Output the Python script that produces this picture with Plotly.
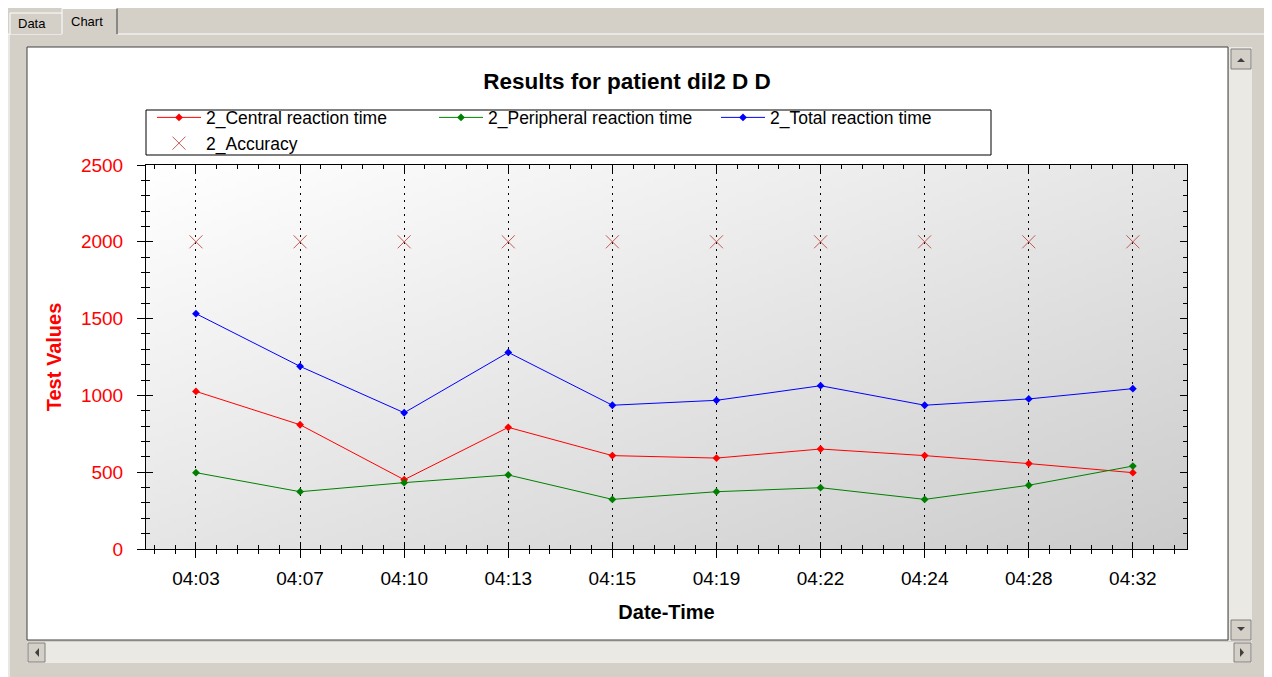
import zlib, struct, base64
import plotly.graph_objects as go

# ---------------- data ----------------
times = ["04:03", "04:07", "04:10", "04:13", "04:15", "04:19", "04:22", "04:24", "04:28", "04:32"]
central = [1026, 809, 451, 792, 608, 592, 651, 608, 556, 497]
peripheral = [497, 373, 432, 482, 323, 373, 399, 323, 415, 540]
total = [1532, 1189, 887, 1280, 936, 968, 1063, 936, 977, 1044]
accuracy = [2000, 2000, 2000, 2000, 2000, 2000, 2000, 2000, 2000, 2000]
y_ticks = [0, 500, 1000, 1500, 2000, 2500]

idx = list(range(len(times)))

SW, SH = 1272, 677          # screen size
OFF = 8                     # page body margin
W, H = SW - OFF, SH - OFF   # figure size
L, R, T, B = 146, 1187, 165, 549   # plot area in screen pixels
XR = [-0.48, 9.52]
YR = [0, 2500]
FONT = "Liberation Sans, Arial, sans-serif"
GRAY = "#d4d0c8"


def px(x):
    return (x - L) / (R - L)


def py(y):
    return (B - y) / (B - T)


def gradient_png(w=200, h=80, lo=204):
    raw = bytearray()
    for j in range(h):
        raw.append(0)
        for i in range(w):
            t = 0.5 * i / (w - 1) + 0.5 * j / (h - 1)
            v = int(round(255 - t * (255 - lo)))
            raw += bytes([v, v, v])

    def chunk(tag, data):
        c = struct.pack(">I", len(data)) + tag + data
        return c + struct.pack(">I", zlib.crc32(tag + data) & 0xffffffff)

    png = (b"\x89PNG\r\n\x1a\n"
           + chunk(b"IHDR", struct.pack(">IIBBBBB", w, h, 8, 2, 0, 0, 0))
           + chunk(b"IDAT", zlib.compress(bytes(raw)))
           + chunk(b"IEND", b""))
    return "data:image/png;base64," + base64.b64encode(png).decode()


fig = go.Figure()

series = [
    ("2_Central reaction time", central, "#ff0000"),
    ("2_Peripheral reaction time", peripheral, "#008000"),
    ("2_Total reaction time", total, "#0000ff"),
]
for name, vals, col in series:
    fig.add_trace(go.Scatter(
        x=idx, y=vals, name=name, mode="lines+markers",
        line=dict(color=col, width=1),
        marker=dict(symbol="diamond", size=6, color=col),
        text=times, hovertemplate="%{text}: %{y}<extra>" + name + "</extra>",
    ))

fig.add_trace(go.Scatter(
    x=idx, y=accuracy, name="2_Accuracy", mode="markers",
    xaxis="x2", yaxis="y2",
    marker=dict(symbol="x-thin-open", size=13, color="#c25a58",
                line=dict(color="#c25a58", width=1)),
    text=times, hovertemplate="%{text}: %{y}<extra>2_Accuracy</extra>",
))

tickfont = dict(family=FONT, size=19, color="black")

fig.update_layout(
    width=W, height=H, autosize=False,
    margin=dict(l=L - OFF, r=SW - R, t=T - OFF, b=SH - B, autoexpand=False),
    paper_bgcolor=GRAY,
    plot_bgcolor="rgba(0,0,0,0)",
    font=dict(family=FONT),
    showlegend=True,
    title=dict(text="<b>Results for patient dil2 D D</b>",
               font=dict(family=FONT, size=22.5, color="black"),
               xref="paper", x=px(627), xanchor="center",
               yref="container", y=1 - (81 - OFF) / H, yanchor="middle"),
    xaxis=dict(
        range=XR, tickmode="array", tickvals=idx, ticktext=times,
        tickfont=tickfont, ticks="outside", ticklen=8, tickcolor="black",
        showline=True, linecolor="black", linewidth=1, mirror=False,
        showgrid=True, gridcolor="black", gridwidth=1, griddash="2px,5px",
        zeroline=False, automargin=False, ticklabelstandoff=4,
        minor=dict(tickmode="linear", tick0=0, dtick=0.2, ticks="outside",
                   ticklen=4, tickcolor="black", showgrid=False),
        title=dict(text="<b>Date-Time</b>", font=dict(family=FONT, size=20, color="black"),
                   standoff=17),
    ),
    xaxis2=dict(
        range=XR, overlaying="x", anchor="y2", side="bottom",
        tickmode="array", tickvals=idx, showticklabels=False,
        ticks="inside", ticklen=7, tickcolor="black",
        showline=True, linecolor="black", mirror="ticks",
        showgrid=False, zeroline=False, automargin=False,
        minor=dict(tickmode="linear", tick0=0, dtick=0.2, ticks="inside",
                   ticklen=4, tickcolor="black", showgrid=False),
    ),
    yaxis=dict(
        range=YR, tickmode="array", tickvals=y_ticks,
        tickfont=dict(family=FONT, size=19, color="#ff0000"),
        ticks="outside", ticklen=8, tickcolor="black",
        showline=True, linecolor="black", linewidth=1, mirror=False,
        showgrid=False, zeroline=False, automargin=False, ticklabelstandoff=10,
        minor=dict(tickmode="linear", tick0=0, dtick=100, ticks="outside",
                   ticklen=4, tickcolor="black", showgrid=False),
        title=dict(text="<b>Test Values</b>", font=dict(family=FONT, size=20, color="#ff0000"),
                   standoff=13),
    ),
    yaxis2=dict(
        range=YR, overlaying="y", anchor="x2", side="left",
        tickmode="array", tickvals=y_ticks, showticklabels=False,
        ticks="inside", ticklen=7, tickcolor="black",
        showline=True, linecolor="black", mirror="ticks",
        showgrid=False, zeroline=False, automargin=False,
        minor=dict(tickmode="linear", tick0=0, dtick=100, ticks="inside",
                   ticklen=4, tickcolor="black", showgrid=False),
    ),
    legend=dict(
        orientation="h", x=px(152), xanchor="left", y=py(99.5), yanchor="top",
        bgcolor="rgba(0,0,0,0)", borderwidth=0,
        font=dict(family=FONT, size=17.5, color="black"),
        entrywidth=223, entrywidthmode="pixels", itemwidth=44,
        traceorder="normal", tracegroupgap=0,
    ),
    hovermode="closest",
)

# gradient background of plotting area
fig.add_layout_image(dict(
    source=gradient_png(), xref="x", yref="y", x=XR[0], y=YR[1],
    sizex=XR[1] - XR[0], sizey=YR[1] - YR[0], sizing="stretch",
    xanchor="left", yanchor="top", layer="below",
))


# ---------------- window chrome ----------------
def rect(x0, y0, x1, y1, fill, line=None, lw=1):
    return dict(type="rect", xref="paper", yref="paper", layer="below",
                x0=px(x0), x1=px(x1), y0=py(y1), y1=py(y0),
                fillcolor=fill, line=dict(color=line or fill, width=lw if line else 0))


def seg(x0, y0, x1, y1, col, lw=1):
    return dict(type="line", xref="paper", yref="paper", layer="below",
                x0=px(x0), x1=px(x1), y0=py(y0), y1=py(y1), line=dict(color=col, width=lw))


def tri(points, col="#404040"):
    p = "M " + " L ".join(f"{px(a)},{py(b)}" for a, b in points) + " Z"
    return dict(type="path", xref="paper", yref="paper", layer="below", path=p,
                fillcolor=col, line=dict(color=col, width=0))


shapes = [
    # tab page frame
    seg(8, 34, 1266, 34, "white"),
    seg(9, 34, 9, 677, "white"),
    seg(1266, 34, 1266, 677, "#404040"),
    # Data tab
    rect(10, 13, 62, 34, GRAY),
    seg(10, 13, 10, 34, "white"), seg(10, 13, 62, 13, "white"),
    # Chart tab (selected)
    rect(62, 8.5, 118, 35, GRAY),
    seg(62, 8.5, 62, 34, "white"), seg(62, 8.5, 117, 8.5, "white"),
    seg(117, 8.5, 117, 34, "#404040"),
    # white chart panel
    rect(27, 47, 1228, 640, "white", "#404040", 1),
    # legend box
    rect(146, 110, 991, 155, "white", "black", 1),
    # vertical scrollbar
    rect(1229, 47, 1252, 641, "#ebe9e4"),
    rect(1231, 49, 1251, 69, GRAY, "#808080", 1),
    rect(1231, 620, 1251, 640, GRAY, "#808080", 1),
    tri([(1237, 62), (1245, 62), (1241, 58)]),
    tri([(1237, 627), (1245, 627), (1241, 631)]),
    # horizontal scrollbar
    rect(27, 642, 1252, 663, "#ebe9e4"),
    rect(28, 643, 45, 662, GRAY, "#808080", 1),
    rect(1234, 643, 1251, 662, GRAY, "#808080", 1),
    tri([(39, 648), (39, 657), (35, 652.5)]),
    tri([(1240, 648), (1240, 657), (1244, 652.5)]),
]
fig.update_layout(shapes=shapes)

fig.add_annotation(text="Data", xref="paper", yref="paper", x=px(32), y=py(23.5),
                   xanchor="center", yanchor="middle",
                   showarrow=False, font=dict(family=FONT, size=13, color="black"))
fig.add_annotation(text="Chart", xref="paper", yref="paper", x=px(87), y=py(21),
                   xanchor="center", yanchor="middle",
                   showarrow=False, font=dict(family=FONT, size=13, color="black"))

fig.write_html("out.html")
